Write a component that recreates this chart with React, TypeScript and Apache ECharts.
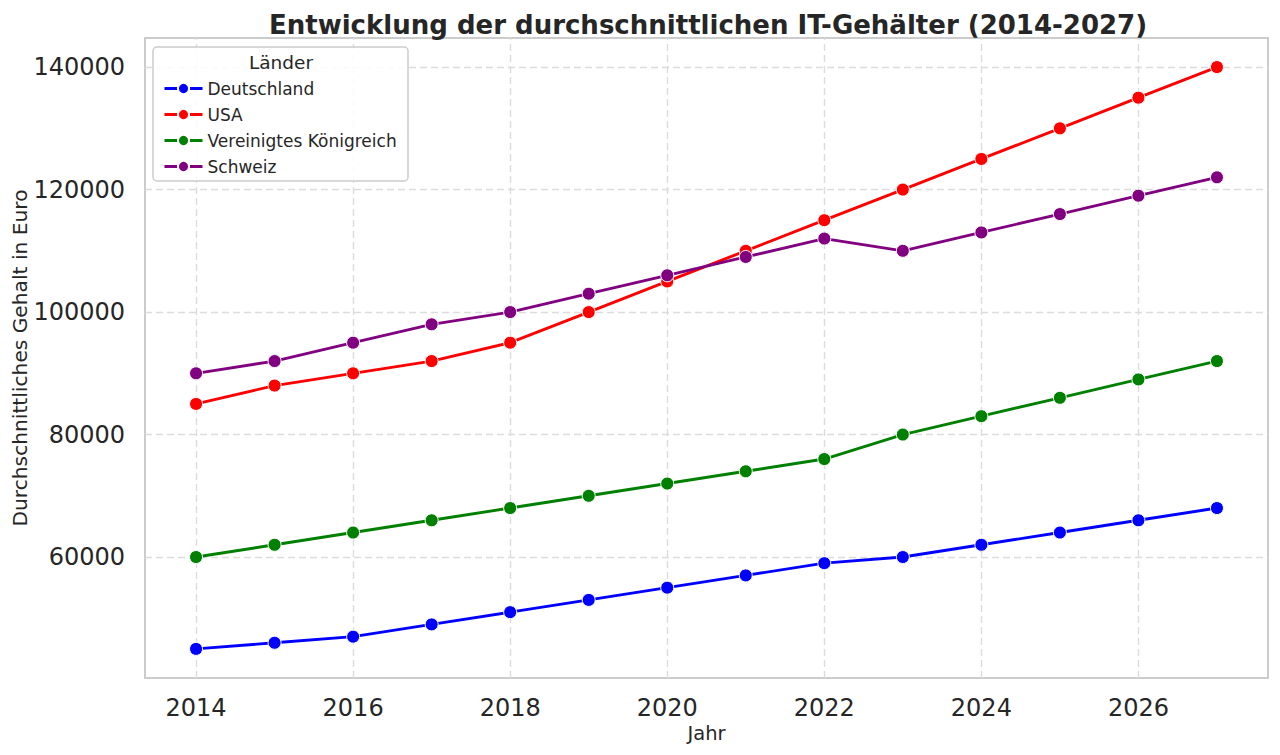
import React, { useEffect, useRef } from "react";
import * as echarts from "echarts";

const years = [2014, 2015, 2016, 2017, 2018, 2019, 2020, 2021, 2022, 2023, 2024, 2025, 2026, 2027];
const deutschland = [45000, 46000, 47000, 49000, 51000, 53000, 55000, 57000, 59000, 60000, 62000, 64000, 66000, 68000];
const usa = [85000, 88000, 90000, 92000, 95000, 100000, 105000, 110000, 115000, 120000, 125000, 130000, 135000, 140000];
const uk = [60000, 62000, 64000, 66000, 68000, 70000, 72000, 74000, 76000, 80000, 83000, 86000, 89000, 92000];
const schweiz = [90000, 92000, 95000, 98000, 100000, 103000, 106000, 109000, 112000, 110000, 113000, 116000, 119000, 122000];
const xTicks = [2014, 2016, 2018, 2020, 2022, 2024, 2026];
const yTicks = [60000, 80000, 100000, 120000, 140000];

const seriesDefs = [
  { name: "Deutschland", data: deutschland, color: "#0000ff" },
  { name: "USA", data: usa, color: "#ff0000" },
  { name: "Vereinigtes Königreich", data: uk, color: "#008000" },
  { name: "Schweiz", data: schweiz, color: "#800080" },
];

const FONT = "DejaVu Sans";
const TEXT = "#262626";

export default function App() {
  const ref = useRef<HTMLDivElement>(null);
  useEffect(() => {
    const chart = echarts.init(ref.current!, null, { renderer: "svg" });
    const gridLine = { type: [7, 4], color: "#dcdcdc", width: 1.4 };
    chart.setOption({
      animation: false,
      backgroundColor: "#ffffff",
      title: {
        text: "Entwicklung der durchschnittlichen IT-Gehälter (2014-2027)",
        left: 703,
        textAlign: "center",
        top: 7,
        textStyle: { fontFamily: FONT, fontWeight: "bold", fontSize: 26, color: TEXT },
      },
      grid: {
        left: 145,
        right: 12,
        top: 38,
        bottom: 77,
        outerBoundsMode: "none",
        containLabel: false,
        show: true,
        borderColor: "#cccccc",
        borderWidth: 2,
        backgroundColor: "#ffffff",
      },
      xAxis: {
        type: "value",
        min: 2013.35,
        max: 2027.65,
        name: "Jahr",
        nameLocation: "middle",
        nameGap: 45,
        nameMoveOverlap: false,
        nameTextStyle: { fontFamily: FONT, fontSize: 19.5, color: TEXT },
        axisLine: { show: false },
        axisTick: { show: false },
        splitLine: { show: false },
        axisLabel: {
          customValues: xTicks,
          fontFamily: FONT,
          fontSize: 24,
          color: TEXT,
          margin: 18,
          formatter: (v: number) => String(v),
        },
      },
      yAxis: {
        type: "value",
        min: 40250,
        max: 144750,
        name: "Durchschnittliches Gehalt in Euro",
        nameLocation: "middle",
        nameGap: 115,
        nameMoveOverlap: false,
        nameTextStyle: { fontFamily: FONT, fontSize: 20.2, color: TEXT },
        axisLine: { show: false },
        axisTick: { show: false },
        splitLine: { show: false },
        axisLabel: {
          customValues: yTicks,
          fontFamily: FONT,
          fontSize: 24,
          color: TEXT,
          margin: 20,
          formatter: (v: number) => String(v),
        },
      },
      legend: {
        orient: "vertical",
        left: 158,
        top: 74,
        itemWidth: 38,
        itemHeight: 14,
        itemGap: 7,
        z: 20,
        lineStyle: { width: 3 },
        textStyle: { fontFamily: FONT, fontSize: 17, color: TEXT, lineHeight: 19 },
        data: seriesDefs.map((s) => s.name),
      },
      graphic: [
        {
          type: "rect",
          z: 10,
          shape: { x: 153, y: 47, width: 255, height: 134, r: 4 },
          style: { fill: "rgba(255,255,255,0.85)", stroke: "#cccccc", lineWidth: 1.5 },
        },
        {
          type: "text",
          z: 11,
          x: 281,
          y: 62,
          style: {
            text: "Länder",
            fontFamily: FONT,
            fontSize: 18.5,
            fill: TEXT,
            align: "center",
            verticalAlign: "middle",
          },
        },
      ],
      series: [
        {
          type: "line",
          name: "__grid",
          data: [],
          z: 1,
          silent: true,
          markLine: {
            silent: true,
            z: 1,
            symbol: ["none", "none"],
            label: { show: false },
            lineStyle: gridLine,
            emphasis: { disabled: true },
            data: [
              ...xTicks.map((v) => ({ xAxis: v })),
              ...yTicks.map((v) => ({ yAxis: v })),
            ],
          },
        },
        ...seriesDefs.map((s) => ({
          type: "line",
          name: s.name,
          z: 3,
          data: years.map((y, i) => [y, s.data[i]]),
          symbol: "circle",
          symbolSize: 13,
          color: s.color,
          lineStyle: { color: s.color, width: 2.9 },
          itemStyle: { color: s.color, borderColor: "#ffffff", borderWidth: 1 },
        })),
      ],
    });
    return () => chart.dispose();
  }, []);
  return (
    <div
      ref={ref}
      style={{ position: "absolute", left: 0, top: 0, width: 1280, height: 755 }}
    />
  );
}
